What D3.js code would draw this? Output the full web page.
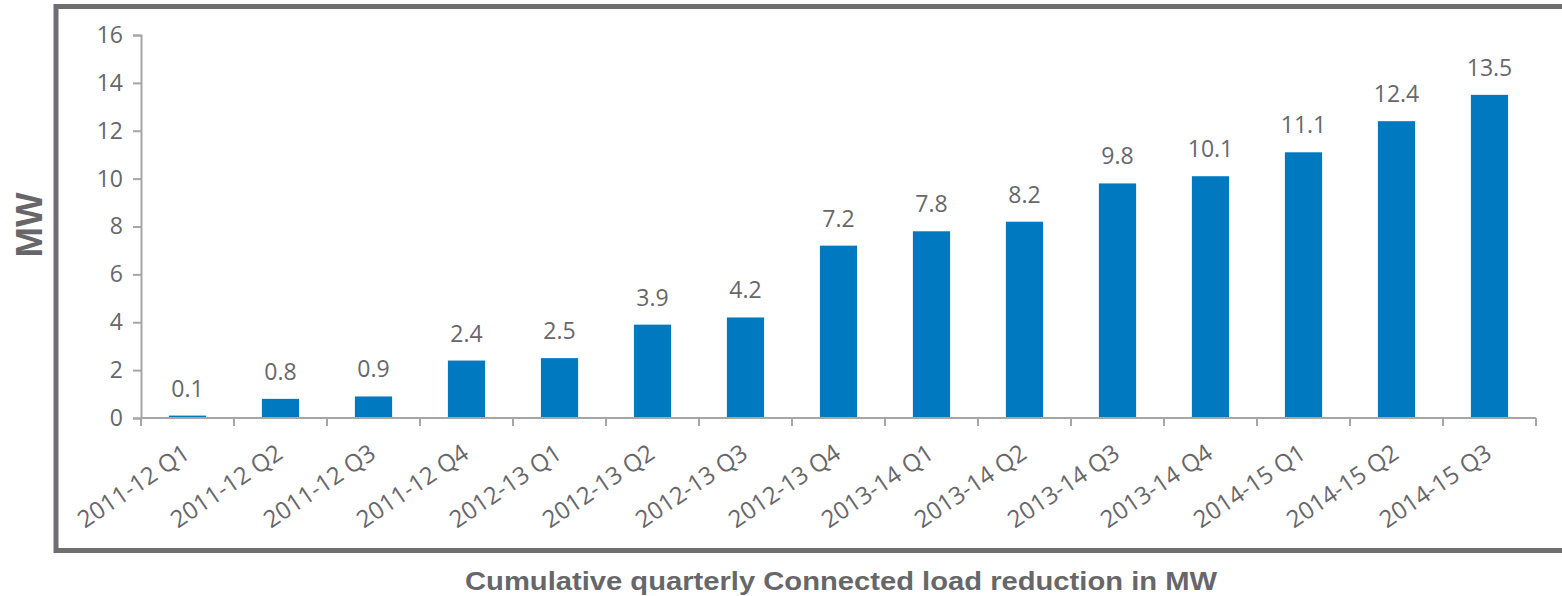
<!DOCTYPE html>
<html>
<head>
<meta charset="utf-8">
<script src="https://cdn.jsdelivr.net/npm/d3@7"></script>
<style>
  html, body { margin: 0; padding: 0; background: #ffffff; }
  svg { display: block; }
</style>
</head>
<body>
<svg id="chart" width="1562" height="596"></svg>
<script>
// Quarterly categories and cumulative connected load reduction (MW)
const quarters = [
  "2011-12 Q1", "2011-12 Q2", "2011-12 Q3", "2011-12 Q4",
  "2012-13 Q1", "2012-13 Q2", "2012-13 Q3", "2012-13 Q4",
  "2013-14 Q1", "2013-14 Q2", "2013-14 Q3", "2013-14 Q4",
  "2014-15 Q1", "2014-15 Q2", "2014-15 Q3"
];
const loadReductionMW = [0.1, 0.8, 0.9, 2.4, 2.5, 3.9, 4.2, 7.2, 7.8, 8.2, 9.8, 10.1, 11.1, 12.4, 13.5];
const yTicks = [0, 2, 4, 6, 8, 10, 12, 14, 16];

const xAxisTitle = "Cumulative quarterly Connected load reduction in MW";
const yAxisTitle = "MW";

const svg = d3.select("#chart");
const textGray = "#67676a";
const axisGray = "#a6a6a6";
const barBlue = "#0079c1";
const font = "'Open Sans', 'DejaVu Sans', sans-serif";

const plot = { left: 141, right: 1536, top: 35, bottom: 418 };

const x = d3.scaleBand()
  .domain(quarters)
  .range([plot.left, plot.right])
  .paddingInner(0.6)
  .paddingOuter(0.3);

// band boundaries for the category tick marks
const step = x.step();
const boundaries = d3.range(quarters.length + 1).map(i => plot.left + i * step);

const y = d3.scaleLinear()
  .domain([0, 16])
  .range([plot.bottom, plot.top]);

// outer frame
svg.append("rect")
  .attr("x", 56)
  .attr("y", 6.5)
  .attr("width", 1600)
  .attr("height", 544)
  .attr("fill", "none")
  .attr("stroke", "#6e6e72")
  .attr("stroke-width", 5);

// y axis
const yAxis = svg.append("g")
  .attr("transform", `translate(${plot.left},0)`)
  .call(d3.axisLeft(y).tickValues(yTicks).tickSize(8).tickPadding(10).tickFormat(d3.format("d")));
yAxis.select(".domain").attr("stroke", axisGray).attr("stroke-width", 2);
yAxis.selectAll(".tick line").attr("stroke", axisGray).attr("stroke-width", 2);
yAxis.selectAll(".tick text")
  .attr("fill", textGray)
  .style("font-family", font)
  .style("font-size", "23px");

// bars
svg.append("g")
  .selectAll("rect")
  .data(quarters)
  .join("rect")
  .attr("x", d => x(d))
  .attr("width", x.bandwidth())
  .attr("y", (d, i) => y(loadReductionMW[i]))
  .attr("height", (d, i) => y(0) - y(loadReductionMW[i]))
  .attr("fill", barBlue);

// x axis line with ticks at category boundaries
const xAxis = svg.append("g");
xAxis.append("line")
  .attr("x1", plot.left).attr("x2", plot.right)
  .attr("y1", plot.bottom).attr("y2", plot.bottom)
  .attr("stroke", axisGray).attr("stroke-width", 2);
xAxis.selectAll("line.tick")
  .data(boundaries)
  .join("line")
  .attr("class", "tick")
  .attr("x1", d => d).attr("x2", d => d)
  .attr("y1", plot.bottom).attr("y2", plot.bottom + 8)
  .attr("stroke", axisGray).attr("stroke-width", 2);

// rotated category labels
xAxis.selectAll("text")
  .data(quarters)
  .join("text")
  .attr("transform", d => `translate(${x(d) + x.bandwidth() / 2 + 4},${457}) rotate(-34)`)
  .attr("text-anchor", "end")
  .attr("fill", textGray)
  .style("font-family", font)
  .style("font-size", "24px")
  .text(d => d);

// value labels above bars
svg.append("g")
  .selectAll("text")
  .data(quarters)
  .join("text")
  .attr("x", d => x(d) + x.bandwidth() / 2)
  .attr("y", (d, i) => y(loadReductionMW[i]) - 19)
  .attr("text-anchor", "middle")
  .attr("fill", textGray)
  .style("font-family", font)
  .style("font-size", "23px")
  .text((d, i) => d3.format(".1f")(loadReductionMW[i]));

// axis titles
svg.append("text")
  .attr("transform", "translate(42,225) rotate(-90)")
  .attr("text-anchor", "middle")
  .attr("fill", textGray)
  .style("font-family", "'Liberation Sans', Arial, sans-serif")
  .style("font-weight", "bold")
  .style("font-size", "36px")
  .attr("textLength", 65)
  .attr("lengthAdjust", "spacingAndGlyphs")
  .text(yAxisTitle);

svg.append("text")
  .attr("x", 841)
  .attr("y", 590)
  .attr("text-anchor", "middle")
  .attr("fill", textGray)
  .style("font-family", "'Liberation Sans', Arial, sans-serif")
  .style("font-weight", "bold")
  .style("font-size", "26px")
  .attr("textLength", 752)
  .attr("lengthAdjust", "spacingAndGlyphs")
  .text(xAxisTitle);
</script>
</body>
</html>
